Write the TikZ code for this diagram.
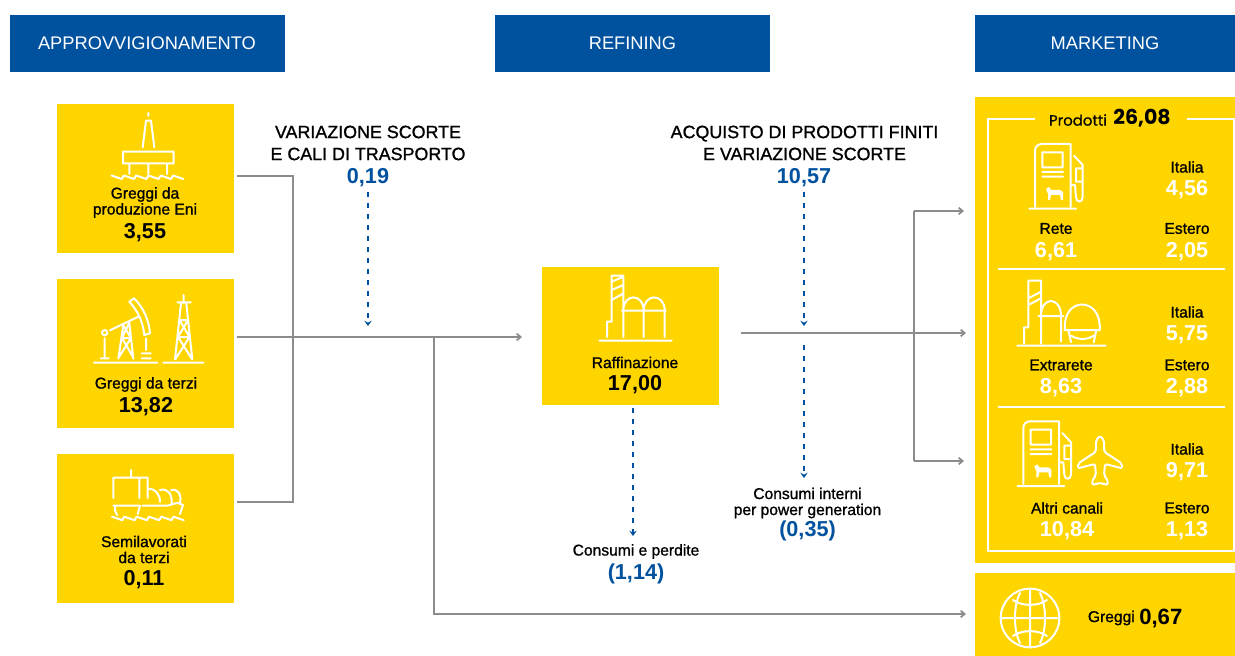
\documentclass[tikz,border=0pt]{standalone}
\usepackage{fontspec}
\setmainfont{Liberation Sans}
\newfontfamily\medfont[FakeBold=1.1]{Liberation Sans}
\newfontfamily\geofont{Poppins}
\newfontfamily\geomed[FakeBold=0.6]{Poppins}
\usetikzlibrary{arrows.meta}
\definecolor{enigiallo}{HTML}{FFD500}
\definecolor{eniblu}{HTML}{00519E}
\definecolor{linea}{HTML}{8C8C8C}
\def\px{0.75pt}
\tikzset{
    testata/.style={fill=eniblu, text=white, inner sep=0pt, minimum width=275*\px, minimum height=57*\px, font=\fontsize{13.7}{15}\selectfont},
    riquadro/.style={fill=enigiallo, inner sep=0pt},
    voce/.style={inner sep=0pt, align=center, font=\medfont\fontsize{11.7}{12}\selectfont},
    titolo/.style={inner sep=0pt, align=center, font=\medfont\fontsize{13.4}{16.5}\selectfont},
    valore/.style={inner sep=0pt, font=\bfseries\fontsize{16.2}{18}\selectfont},
    bianco/.style={valore, text=white},
    blu/.style={valore, text=eniblu},
    icona/.style={draw=white, line width=1.5pt, line cap=round, line join=round},
    filo/.style={draw=linea, line width=1.3pt},
    flusso/.style={filo, -{Straight Barb[length=3pt,width=5pt]}},
    tratto/.style={draw=eniblu, line width=1.2pt, dash pattern=on 3.75pt off 4.5pt, -{Stealth[length=4pt,width=5.5pt,inset=1.5pt]}},
    onde/.pic={
        \draw[icona] (0,0) foreach \k in {0,...,4}{ -- ++(10.3,3.5) -- ++(2,-3.5)} -- ++(10.3,3.5);
    },
    pompa/.pic={
        \draw[icona] (-5.7,64.7) -- (41,64.7)
              (0,62.7) -- (0,7) to[rounded corners=5pt] (0,0) -- (35.7,0) to[rounded corners=0pt] (35.7,0) -- (35.7,62.7)
              (7.3,8.3) rectangle (27.7,23.3)
              (7.3,28) -- (28,28) (7.3,32.7) -- (28,32.7)
              (35.7,41) -- (40,41) -- (41,53) .. controls (41,59) and (47.7,59) .. (47.7,53) -- (47.7,21) -- (39,11.7)
              (41,24.3) rectangle (47.7,37.7);
        % cane
        \fill[white] (11,45) -- (14,43) -- (16,46) -- (25,46) -- (28,48) -- (28,56) -- (26,56) -- (25,51) -- (16,51) -- (15,56) -- (13,56) -- (13,50) -- cycle;
    }
}
\begin{document}
\begin{tikzpicture}[x=0.75pt, y=-0.75pt, >=latex]
    \useasboundingbox (0,0) rectangle (1235,656);

    % Testate
    \node[testata] (appr) at (147,43.5) {APPROVVIGIONAMENTO};
    \node[testata] (refi) at (632.5,43.5) {REFINING};
    \node[testata, minimum width=260*\px] (mark) at (1105,43.5) {MARKETING};

    % Riquadri
    \node[riquadro, minimum width=177*\px, minimum height=149*\px] (eni) at (145.5,178.5) {};
    \node[riquadro, minimum width=177*\px, minimum height=149*\px] (terzi) at (145.5,353.5) {};
    \node[riquadro, minimum width=177*\px, minimum height=149*\px] (semi) at (145.5,528.5) {};
    \node[riquadro, minimum width=177*\px, minimum height=138*\px] (raff) at (630.5,336) {};
    \node[riquadro, minimum width=260*\px, minimum height=466*\px] (prod) at (1105,330) {};
    \node[riquadro, minimum width=260*\px, minimum height=83*\px] (greg) at (1105,614.5) {};

    % Cornice
    \draw[white, line width=1.4pt] (1035,119) -- (988,119) -- (988,551) -- (1234,551) -- (1234,119) -- (1187,119)
          (998,269) -- (1225,269) (998,407) -- (1225,407);

    % Punti liberi
    \coordinate (eniOut) at (237,176);
    \coordinate (terziOut) at (237,337);
    \coordinate (semiOut) at (237,502);
    \coordinate (nodoA) at (293,176);
    \coordinate (nodoB) at (293,502);
    \coordinate (nodoC) at (434,337);
    \coordinate (nodoD) at (434,614);
    \coordinate (raffIn) at (522,337);
    \coordinate (raffOut) at (741,333);
    \coordinate (nodoE) at (914,211);
    \coordinate (nodoF) at (914,461);
    \coordinate (reteIn) at (964,211);
    \coordinate (extraIn) at (966,333);
    \coordinate (altriIn) at (964,461);
    \coordinate (grezzoIn) at (966,614);
    \coordinate (scorteA) at (368,192);
    \coordinate (scorteB) at (368,326);
    \coordinate (acqA) at (804,192);
    \coordinate (acqB) at (804,326);
    \coordinate (consA) at (804,345);
    \coordinate (consB) at (804,478);
    \coordinate (perdA) at (633,408);
    \coordinate (perdB) at (633,536);

    % Linee
    \draw[filo] (eniOut) -- (nodoA) -- (nodoB) -- (semiOut);
    \draw[flusso] (terziOut) -- (raffIn);
    \draw[flusso] (nodoC) -- (nodoD) -- (grezzoIn);
    \draw[flusso] (raffOut) -- (extraIn);
    \draw[flusso] (nodoE) -- (reteIn);
    \draw[flusso] (nodoF) -- (altriIn);
    \draw[filo] (nodoE) -- (nodoF);
    \draw[tratto] (scorteA) -- (scorteB);
    \draw[tratto] (acqA) -- (acqB);
    \draw[tratto] (consA) -- (consB);
    \draw[tratto] (perdA) -- (perdB);

    % Testi sopra
    \node[titolo] (scorte) at (368,143) {VARIAZIONE SCORTE\\E CALI DI TRASPORTO};
    \node[blu] (scorteV) at (368,178) {0,19};
    \node[titolo] (acq) at (804.5,143) {ACQUISTO DI PRODOTTI FINITI\\E VARIAZIONE SCORTE};
    \node[blu] (acqV) at (804,178) {10,57};

    % Approvvigionamento
    \node[voce] (eniL) at (145,202.5) {Greggi da\\produzione Eni};
    \node[valore] (eniV) at (145,233) {3,55};
    \node[voce] (terziL) at (146,384.5) {Greggi da terzi};
    \node[valore] (terziV) at (146,407) {13,82};
    \node[voce] (semiL) at (144,549.5) {Semilavorati\\da terzi};
    \node[valore] (semiV) at (144,580) {0,11};

    % Raffinazione
    \node[voce] (raffL) at (635,362.5) {Raffinazione};
    \node[valore] (raffV) at (635,385) {17,00};
    \node[voce] (perdL) at (636,551.5) {Consumi e perdite};
    \node[blu] (perdV) at (636,574) {(1,14)};
    \node[voce] (consL) at (807.5,503) {Consumi interni\\per power generation};
    \node[blu] (consV) at (807.5,531) {(0,35)};

    % Marketing
    \node[inner sep=0pt, font=\geomed\fontsize{11.2}{12}\selectfont] (prodL) at (1078,120) {Prodotti};
    \node[inner sep=0pt, font=\geofont\bfseries\fontsize{15.4}{18}\selectfont] (prodV) at (1142,118.5) {26,08};
    \node[voce] (itaA) at (1187,167) {Italia};
    \node[bianco] (itaAV) at (1187,190) {4,56};
    \node[voce] (reteL) at (1056,228.5) {Rete};
    \node[bianco] (reteV) at (1056,252) {6,61};
    \node[voce] (estA) at (1187,228.5) {Estero};
    \node[bianco] (estAV) at (1187,252) {2,05};
    \node[voce] (itaB) at (1187,312) {Italia};
    \node[bianco] (itaBV) at (1187,335) {5,75};
    \node[voce] (extraL) at (1061,365) {Extrarete};
    \node[bianco] (extraV) at (1061,388) {8,63};
    \node[voce] (estB) at (1187,365) {Estero};
    \node[bianco] (estBV) at (1187,388) {2,88};
    \node[voce] (itaC) at (1187,449) {Italia};
    \node[bianco] (itaCV) at (1187,472) {9,71};
    \node[voce] (altriL) at (1067,508) {Altri canali};
    \node[bianco] (altriV) at (1067,531) {10,84};
    \node[voce] (estC) at (1187,508) {Estero};
    \node[bianco] (estCV) at (1187,531) {1,13};
    \node[voce, anchor=east] (gregL) at (1135,618) {Greggi};
    \node[valore, anchor=west, font=\bfseries\fontsize{16.6}{18}\selectfont] (gregV) at (1139,618) {0,67};

    % Piattaforma
    \draw[icona] (148.3,113) -- (148.3,116)
          (142.7,147.3) -- (146,120.7) -- (151,120.7) -- (154.3,147.3)
          (123,151.7) rectangle (173.7,163.3)
          (129.3,163.3) -- (129.3,174) (148.3,163.3) -- (148.3,174) (167,163.3) -- (167,174);
    \pic at (111.5,175.5) {onde};

    % Pozzo e torre
    \draw[icona] (94,362.7) -- (157.3,362.7) (163.3,362.7) -- (203.3,362.7)
          (104.7,332.7) circle (2pt)
          (110,330.3) -- (137.7,317)
          (129.3,301.7) -- (134,298.3) .. controls (143,307) and (149,320) .. (150,333.3) -- (144.3,335) .. controls (143,322) and (138,311) .. (129.3,301.7)
          (118.3,358.7) -- (123.3,325.3) (133.3,358.7) -- (129.3,322.7)
          (122,338) -- (131,338) (122,338) -- (133,357) (131,338) -- (119,357)
          (123.3,325.3) -- (131,338) (129.3,322.7) -- (122,338)
          (104.7,338.3) -- (104.7,356.7) (100.7,358.3) -- (108.7,358.3)
          (146,338.3) -- (146,350) (141.7,353.3) -- (150.7,353.3) (141.7,358.3) -- (150.7,358.3)
          (183.7,295) -- (183.7,303.3) (177.3,302.3) -- (190.7,302.3)
          (175,359.3) -- (181,303.3) (192.3,359.3) -- (186.3,303.3)
          (179.5,320) -- (188,320) (178,337) -- (189.5,337)
          (179.5,320) -- (189.5,337) (188,320) -- (178,337)
          (178,337) -- (192,359) (189.5,337) -- (175.5,359);

    % Nave
    \draw[icona] (113.3,498) -- (113.3,477.7) -- (147.7,477.7) -- (147.7,498)
          (139.3,477.7) -- (139.3,498) (131,470) -- (131,477.7)
          (115,506) -- (115,511) -- (117.3,515) (113.3,505.7) -- (140,505.7) -- (137.7,514)
          (142.3,505.7) -- (166,505.7) .. controls (170,505.7) and (174,503) .. (178,503) -- (183,505) -- (180,514)
          (147.7,489) .. controls (155,488) and (160,494) .. (160,502)
          (160,490) .. controls (168,488) and (172,494) .. (171.7,503)
          (171,490) .. controls (177,488) and (182,494) .. (180,503);
    \pic at (112,516.7) {onde};

    % Raffineria
    \draw[icona] (599.3,340.7) -- (671.7,340.7)
          (607,337) -- (607,321.7) -- (611.7,321.7) -- (611.7,275.7) -- (623.3,275.7) -- (623.3,337)
          (611.7,281.7) -- (623.3,276.7) (611.7,290) -- (623.3,285) (611.7,300) -- (623.3,293.5)
          (623.3,310.7) .. controls (623.3,293) and (643.7,293) .. (643.7,310.7) -- (643.7,337)
          (643.7,310.7) .. controls (643.7,293) and (664.7,293) .. (664.7,310.7) -- (664.7,337)
          (622,310.7) -- (665.7,310.7);

    % Distributore
    \pic at (1035,144) {pompa};
    \pic at (1023.3,421.3) {pompa};

    % Impianto
    \draw[icona] (1017.3,345.7) -- (1105.7,345.7)
          (1024,343.3) -- (1024,327.3) -- (1028.3,327.3) -- (1028.3,280.7) -- (1041,280.7) -- (1041,343.3)
          (1028.3,298.3) -- (1041,291.7) (1028.3,305) -- (1041,298.3)
          (1041,316) .. controls (1041,296) and (1061,296) .. (1061,316) -- (1061,341.7)
          (1038.3,316) -- (1063.3,316)
          (1064.9,330) .. controls (1062,296) and (1102,296) .. (1099.7,330)
          (1064.3,330) -- (1100,330)
          (1068.7,331.7) -- (1071,342.3) (1096,331.7) -- (1093.7,342.3)
          (1071,335.7) .. controls (1078,340) and (1087,340) .. (1093.7,335.7);

    % Aereo
    \draw[icona, rounded corners=1.5pt] (1100,436) -- (1104,440) -- (1104,451.7) -- (1121.7,463.3) -- (1122.3,468.3) -- (1105,464) -- (1104,475) -- (1108.3,481.7) -- (1107.3,485) -- (1100,482.7)
          -- (1092.7,485) -- (1091.7,481.7) -- (1096,475) -- (1095,464) -- (1077.7,468.3) -- (1078.3,463.3) -- (1096,451.7) -- (1096,440) -- cycle;

    % Globo
    \draw[icona] (1030,618) circle (22pt)
          (1001,618) -- (1059,618) (1030,589) -- (1030,647)
          (1020,593) .. controls (1013.3,606) and (1013.3,630) .. (1020,643)
          (1040,593) .. controls (1046.7,606) and (1046.7,630) .. (1040,643)
          (1013,600) .. controls (1022,606.5) and (1038,606.5) .. (1047,600)
          (1013,636) .. controls (1022,629.5) and (1038,629.5) .. (1047,636);
\end{tikzpicture}
\end{document}
